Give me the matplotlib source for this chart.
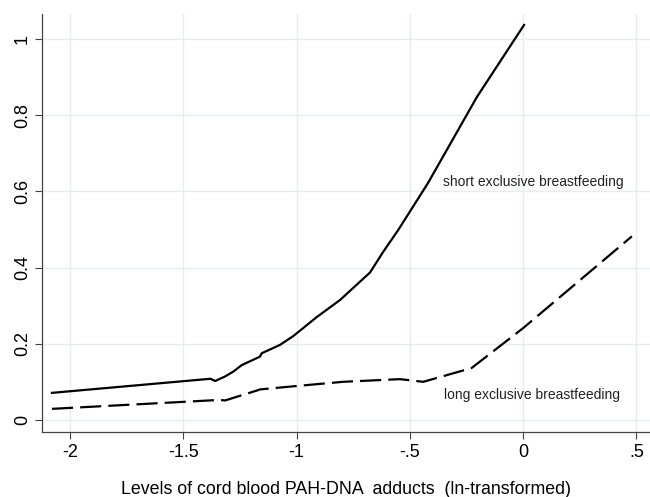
import matplotlib
matplotlib.use('Agg')
import matplotlib.pyplot as plt

# predicted values
short_x = [-2.08, -1.38, -1.36, -1.316, -1.279, -1.242, -1.162, -1.154, -1.073,
           -1.015, -0.911, -0.808, -0.676, -0.617, -0.551, -0.42, -0.204, 0.004]
short_y = [0.071, 0.108, 0.102, 0.114, 0.127, 0.144, 0.166, 0.175, 0.197,
           0.220, 0.270, 0.315, 0.387, 0.442, 0.499, 0.622, 0.848, 1.037]

long_x = [-2.08, -1.338, -1.316, -1.176, -1.162, -1.0, -0.795, -0.617, -0.544,
          -0.441, -0.228, 0.0, 0.251, 0.48]
long_y = [0.029, 0.0525, 0.051, 0.077, 0.080, 0.089, 0.100, 0.105, 0.107,
          0.100, 0.136, 0.241, 0.367, 0.482]

x_ticks = [-2, -1.5, -1, -0.5, 0, 0.5]
x_labels = ['-2', '-1.5', '-1', '-.5', '0', '.5']
y_ticks = [0, 0.2, 0.4, 0.6, 0.8, 1]
y_labels = ['0', '0.2', '0.4', '0.6', '0.8', '1']

plt.rcParams['font.family'] = ['Liberation Sans', 'DejaVu Sans']

fig = plt.figure(figsize=(6.5, 4.97), dpi=100)
ax = fig.add_axes([0.0646, 0.131, 0.9354, 0.841])

grid_col = '#e3eef0'
for t in x_ticks:
    ax.axvline(t, color=grid_col, lw=1.0, zorder=0)
for t in y_ticks:
    ax.axhline(t, color=grid_col, lw=1.0, zorder=0)

ax.plot(short_x, short_y, color='black', lw=1.6, solid_joinstyle='round')
ax.plot(long_x, long_y, color='black', lw=1.6, dashes=(9.5, 3.2))

ax.text(-0.354, 0.625, 'short exclusive breastfeeding', fontsize=10,
        va='center', ha='left', color='#222222')
ax.text(-0.35, 0.066, 'long exclusive breastfeeding', fontsize=10,
        va='center', ha='left', color='#222222')

ax.set_xlim(-2.124, 0.56)
ax.set_ylim(-0.0315, 1.066)
ax.set_xticks(x_ticks)
ax.set_xticklabels(x_labels)
ax.set_yticks(y_ticks)
ax.set_yticklabels(y_labels, rotation=90, va='center')
ax.tick_params(axis='both', labelsize=13, length=5, width=0.8,
               color='#444444', pad=3)
ax.tick_params(axis='x', pad=4)

for s in ['top', 'right']:
    ax.spines[s].set_visible(False)
for s in ['left', 'bottom']:
    ax.spines[s].set_color('#444444')
    ax.spines[s].set_linewidth(0.9)

ax.set_xlabel('Levels of cord blood PAH-DNA  adducts  (ln-transformed)',
              fontsize=12.8, labelpad=14)

fig.savefig('out.png', dpi=100, facecolor='white')
